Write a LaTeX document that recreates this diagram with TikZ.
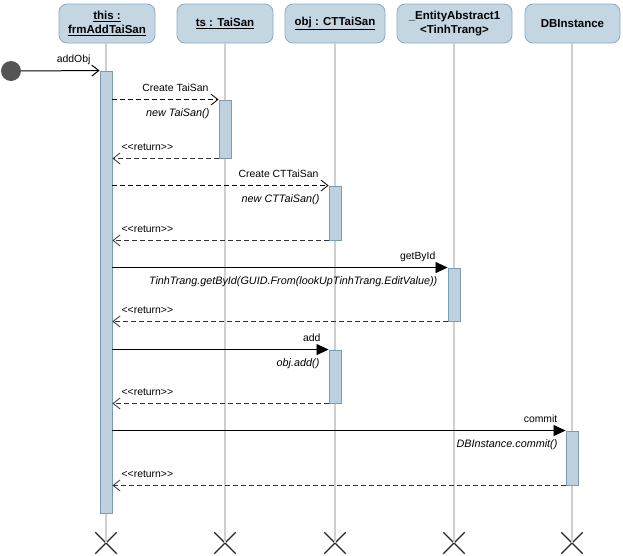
\documentclass[tikz,border=0pt]{standalone}
\usepackage{fontspec}
\setmainfont{Liberation Sans}
\usetikzlibrary{arrows.meta,shapes.misc}
\definecolor{headfill}{HTML}{C5D6E3}
\definecolor{headdraw}{HTML}{8DA9BF}
\definecolor{actfill}{HTML}{BFD0DE}
\definecolor{actdraw}{HTML}{7C9AB5}
\definecolor{lifegray}{HTML}{CFCFCF}
\definecolor{dotgray}{HTML}{555555}
\newcommand{\rtn}{<\kern0pt<return>\kern0pt>}
\begin{document}
\begin{tikzpicture}[x=1pt,y=-1pt,
  head/.style={draw=headdraw, fill=headfill, rounded corners=8pt, minimum height=39pt,
    align=center, inner sep=2pt, line width=0.8pt,
    font=\bfseries\fontsize{11.5}{14}\selectfont},
  act/.style={draw=actdraw, fill=actfill, minimum width=12pt, inner sep=0pt, line width=0.9pt},
  life/.style={draw=lifegray, line width=1.8pt},
  endx/.style={cross out, draw=black!85, minimum size=20pt, inner sep=0pt, line width=1.3pt},
  call/.style={dashed, dash pattern=on 5pt off 3pt, line width=0.8pt, -{Straight Barb[length=7pt,width=11pt]}},
  sync/.style={line width=0.8pt, -{Triangle[length=12pt,width=11pt]}},
  ret/.style={dashed, dash pattern=on 5pt off 3pt, draw=black!80, line width=0.8pt, -{Straight Barb[length=7pt,width=11pt]}},
  lbl/.style={font=\fontsize{10.4}{12}\selectfont, inner sep=0pt},
  note/.style={font=\itshape\fontsize{10.8}{12}\selectfont, inner sep=0pt}
]
\useasboundingbox (0,0) rectangle (623,555);
\fill[white] (0,0) rectangle (623,555);

% heads
\node[head, minimum width=96pt] (h1) at (107,23.5) {\underline{this :}\\\underline{frmAddTaiSan}};
\node[head, minimum width=96pt] (h2) at (225,23.5) {\underline{ts : TaiSan}};
\node[head, minimum width=100pt] (h3) at (335,23.5) {\underline{obj : CTTaiSan}};
\node[head, minimum width=115pt] (h4) at (454.5,23.5) {\_EntityAbstract1\\<TinhTrang>};
\node[head, minimum width=95pt] (h5) at (572.5,23.5) {DBInstance};

% end marks
\node[endx] (x1) at (106,543) {};
\node[endx] (x2) at (225,543) {};
\node[endx] (x3) at (335,543) {};
\node[endx] (x4) at (454,543) {};
\node[endx] (x5) at (572,543) {};

% lifelines
\draw[life] (h1.south -| x1) -- (x1.center);
\draw[life] (h2.south -| x2) -- (x2.center);
\draw[life] (h3.south -| x3) -- (x3.center);
\draw[life] (h4.south -| x4) -- (x4.center);
\draw[life] (h5.south -| x5) -- (x5.center);

% activations
\node[act, minimum height=442pt] (a1) at (106,292) {};
\node[act, minimum height=58pt] (a2) at (225,129) {};
\node[act, minimum height=54pt] (a3) at (335,213) {};
\node[act, minimum height=53pt] (a4) at (454,294.5) {};
\node[act, minimum height=53pt] (a5) at (335,376.5) {};
\node[act, minimum height=54pt] (a6) at (572,458) {};

% start
\node[circle, fill=dotgray, minimum size=20pt, inner sep=0pt] (s) at (11,71) {};
\draw[line width=1pt, -{Straight Barb[length=7pt,width=11pt]}] (s) -- (a1.north west);
\node[lbl, anchor=base east] at ([shift={(-9,-8)}]a1.north west) {addObj};

% Create TaiSan
\draw[call] (a1.east |- a2.north) -- (a2.north west);
\node[lbl, anchor=base east] at ([shift={(-10,-8)}]a2.north west) {Create TaiSan};
\node[note, anchor=base east] at ([shift={(-9,17)}]a2.north west) {new TaiSan()};
\draw[ret] (a2.south west) -- (a1.east |- a2.south);
\node[lbl, anchor=base west] at ([shift={(9,-8)}]a1.east |- a2.south) {\rtn};

% Create CTTaiSan
\draw[call] (a1.east |- a3.north) -- (a3.north west);
\node[lbl, anchor=base east] at ([shift={(-10,-8)}]a3.north west) {Create CTTaiSan};
\node[note, anchor=base east] at ([shift={(-9,17)}]a3.north west) {new CTTaiSan()};
\draw[ret] (a3.south west) -- (a1.east |- a3.south);
\node[lbl, anchor=base west] at ([shift={(9,-8)}]a1.east |- a3.south) {\rtn};

% getById
\draw[sync] (a1.east |- a4.north) -- (a4.north west);
\node[lbl, anchor=base east] at ([shift={(-12,-8)}]a4.north west) {getById};
\node[note, anchor=base east] at ([shift={(-10,17)}]a4.north west) {TinhTrang.getById(GUID.From(lookUpTinhTrang.EditValue))};
\draw[ret] (a4.south west) -- (a1.east |- a4.south);
\node[lbl, anchor=base west] at ([shift={(9,-8)}]a1.east |- a4.south) {\rtn};

% add
\draw[sync] (a1.east |- a5.north) -- (a5.north west);
\node[lbl, anchor=base east] at ([shift={(-8,-8)}]a5.north west) {add};
\node[note, anchor=base east] at ([shift={(-9,17)}]a5.north west) {obj.add()};
\draw[ret] (a5.south west) -- (a1.east |- a5.south);
\node[lbl, anchor=base west] at ([shift={(9,-8)}]a1.east |- a5.south) {\rtn};

% commit
\draw[sync] (a1.east |- a6.north) -- (a6.north west);
\node[lbl, anchor=base east] at ([shift={(-8,-8)}]a6.north west) {commit};
\node[note, anchor=base east] at ([shift={(-8,17)}]a6.north west) {DBInstance.commit()};
\draw[ret] (a6.south west) -- (a1.east |- a6.south);
\node[lbl, anchor=base west] at ([shift={(9,-8)}]a1.east |- a6.south) {\rtn};
\end{tikzpicture}
\end{document}
